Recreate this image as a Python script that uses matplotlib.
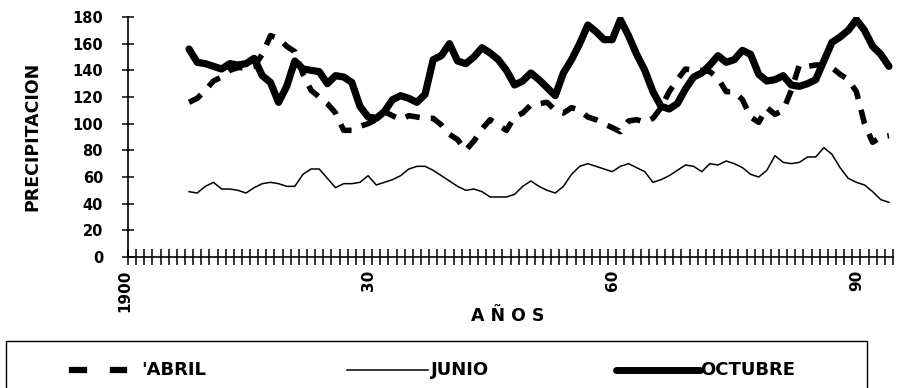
import numpy as np
import matplotlib.pyplot as plt
from matplotlib.lines import Line2D
from matplotlib.patches import Rectangle

plt.rcParams['font.family'] = 'DejaVu Sans'
plt.rcParams['font.weight'] = 'bold'

# years of the smoothed series
years = np.arange(1907, 1994)

abril = [116, 119, 125, 132, 135, 140, 142, 142, 143, 152,
         166, 164, 158, 154, 137, 125, 120, 115, 108, 95,
         95, 98, 100, 103, 109, 106, 103, 106, 105, 104,
         104, 99, 92, 88, 80, 87, 96, 103, 99, 95,
         105, 108, 114, 115, 116, 110, 108, 112, 110, 105,
         103, 100, 97, 94, 102, 103, 101, 104, 112, 124,
         133, 141, 140, 140, 139, 134, 124, 124, 118, 105,
         101, 112, 107, 110, 125, 144, 143, 144, 144, 142,
         137, 133, 124, 100, 86, 90, 91]

junio = [49, 48, 53, 56, 51, 51, 50, 48, 52, 55,
         56, 55, 53, 53, 62, 66, 66, 59, 52, 55,
         55, 56, 61, 54, 56, 58, 61, 66, 68, 68,
         65, 61, 57, 53, 50, 51, 49, 45, 45, 45,
         47, 53, 57, 53, 50, 48, 53, 62, 68, 70,
         68, 66, 64, 68, 70, 67, 64, 56, 58, 61,
         65, 69, 68, 64, 70, 69, 72, 70, 67, 62,
         60, 65, 76, 71, 70, 71, 75, 75, 82, 77,
         67, 59, 56, 54, 49, 43, 41]

octubre = [156, 146, 145, 143, 141, 145, 144, 145, 149, 136,
           131, 116, 128, 147, 141, 140, 139, 130, 136, 135,
           131, 113, 105, 104, 109, 118, 121, 119, 116, 122,
           148, 151, 160, 147, 145, 150, 157, 153, 148, 140,
           129, 132, 138, 133, 127, 121, 138, 148, 160, 174,
           169, 163, 163, 178, 166, 152, 140, 124, 113, 111,
           115, 126, 135, 138, 144, 151, 146, 148, 155, 152,
           137, 132, 133, 136, 129, 128, 130, 133, 147, 161,
           165, 170, 178, 170, 158, 152, 143]

label_years = [1900, 1930, 1960, 1990]
label_text = ['1900', '30', '60', '90']

W, H = 897, 388
fig = plt.figure(figsize=(W / 100, H / 100), dpi=100)
ax = fig.add_axes([128 / W, 1 - 257 / H, 765 / W, 240 / H])

ax.plot(years, abril, color='k', lw=4, ls=(0, (2.6, 2.0)), dash_capstyle='butt')
ax.plot(years, junio, color='k', lw=1.1)
ax.plot(years, octubre, color='k', lw=5.2, solid_capstyle='round', solid_joinstyle='round')

ax.set_xlim(1899.5, 1993.5)
ax.set_ylim(0, 180)
ax.set_yticks(np.arange(0, 181, 20))
ax.set_xticks(label_years)
ax.set_xticklabels(label_text, rotation=90, ha='right', fontsize=11, fontweight='bold')
ax.set_xticks(np.arange(1899.5, 1994, 1), minor=True)
ax.tick_params(axis='x', which='major', length=0, pad=9)
ax.tick_params(axis='x', which='minor', direction='inout', length=11, width=1.1)
ax.tick_params(axis='y', direction='inout', length=8, width=1.1, pad=14, labelsize=10.5)
for lab in ax.get_yticklabels():
    lab.set_fontweight('bold')

for s in ['top', 'right']:
    ax.spines[s].set_visible(False)
for s in ['left', 'bottom']:
    ax.spines[s].set_linewidth(1.2)

fig.text(508 / W, 1 - 316 / H, 'A Ñ O S', ha='center', va='center', fontsize=12.5, fontweight='bold')
fig.text(32 / W, 1 - 136 / H, 'PRECIPITACION', ha='center', va='center', rotation=90,
         fontsize=12.5, fontweight='bold')

# legend box (cut by the bottom of the picture)
fig.add_artist(Rectangle((6 / W, 1 - 395 / H), 861 / W, 54 / H, transform=fig.transFigure,
                         fill=False, ec='k', lw=1))
ly = 1 - 370 / H
for x0, x1 in [(72, 84), (113, 124)]:
    fig.add_artist(Line2D([x0 / W, x1 / W], [ly, ly], transform=fig.transFigure, color='k', lw=4.5))
fig.add_artist(Line2D([347 / W, 428 / W], [ly, ly], transform=fig.transFigure, color='k', lw=1.1))
fig.add_artist(Line2D([616 / W, 700 / W], [ly, ly], transform=fig.transFigure, color='k', lw=5,
                      solid_capstyle='round'))
fig.text(141 / W, ly, "'ABRIL", ha='left', va='center', fontsize=13, fontweight='bold')
fig.text(431 / W, ly, 'JUNIO', ha='left', va='center', fontsize=13, fontweight='bold')
fig.text(700 / W, ly, 'OCTUBRE', ha='left', va='center', fontsize=13, fontweight='bold')

fig.savefig('out.png', dpi=100)
